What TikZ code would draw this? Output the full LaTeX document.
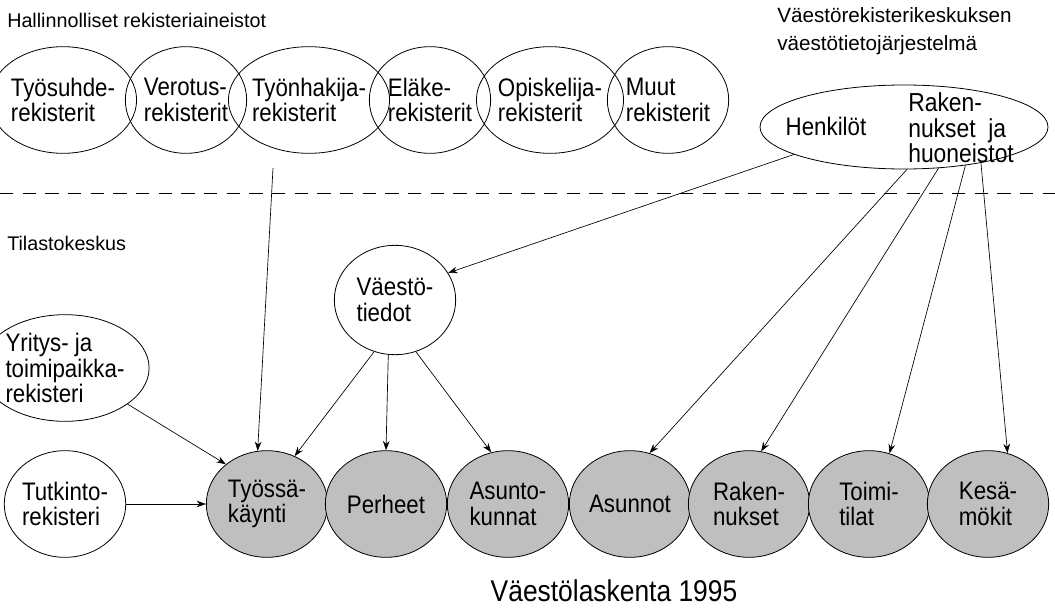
\documentclass[tikz,border=0pt]{standalone}
\usepackage{fontspec}
\setmainfont{Liberation Sans}
\newfontfamily\kapea{Liberation Sans}[FakeStretch=0.88]
\usetikzlibrary{shapes.geometric,arrows.meta}

\tikzset{
  rekisteri/.style={ellipse, draw, line width=0.6pt, inner sep=0pt,
    minimum width=91pt, minimum height=80pt, align=left,
    font=\kapea\fontsize{19}{19}\selectfont},
  tulos/.style={rekisteri, fill=gray!50},
  otsikko/.style={anchor=west, align=left, inner sep=0pt,
    font=\fontsize{14.8}{21.5}\selectfont},
  nuoli/.style={-{Stealth[length=7pt,width=5pt]}, line width=0.5pt},
}

\begin{document}
\begin{tikzpicture}[x=0.75pt, y=-0.75pt]
\useasboundingbox (0,0) rectangle (1055,610);

% hallinnolliset rekisterit
\node[otsikko] (hallinto) at (7,20) {Hallinnolliset rekisteriaineistot};
\node[rekisteri] (tyosuhde) at (63,100) {Työsuhde-\\rekisterit};
\node[rekisteri] (verotus) at (186,100) {Verotus-\\rekisterit};
\node[rekisteri] (tyonhakija) at (309,100) {Työnhakija-\\rekisterit};
\node[rekisteri] (elake) at (430,100) {Eläke-\\rekisterit};
\node[rekisteri] (opiskelija) at (550,100) {Opiskelija-\\rekisterit};
\node[rekisteri] (muut) at (668,100) {Muut\\rekisterit};

% väestötietojärjestelmä
\node[otsikko, font=\fontsize{15.5}{21.5}\selectfont] (vrkotsikko) at (777,31) {Väestörekisterikeskuksen\\väestötietojärjestelmä};
\node[ellipse, draw, line width=0.6pt, minimum width=216pt, minimum height=63pt] (vrk) at (904,127) {};
\node[otsikko, anchor=center, font=\kapea\fontsize{19}{19}\selectfont] (henkilot) at (826,126) {Henkilöt};
\node[otsikko, anchor=west, font=\kapea\fontsize{19.5}{19}\selectfont] (rakhuon) at (908,128) {Raken-\\nukset\ \ ja\\huoneistot};

\draw[line width=0.6pt, dash pattern=on 10pt off 7pt] (0,193) -- (1055,193);

% tilastokeskus
\node[otsikko] (tk) at (7,243) {Tilastokeskus};
\node[rekisteri, minimum height=82pt] (vaesto) at (395,300) {Väestö-\\tiedot};
\node[rekisteri] (yritys) at (65,368) {Yritys- ja\\toimipaikka-\\rekisteri};
\node[rekisteri] (tutkinto) at (65,504) {Tutkinto-\\rekisteri};

\node[tulos] (tyossa) at (267,504) {Työssä-\\käynti};
\node[tulos] (perheet) at (386,504) {Perheet};
\node[tulos] (asuntokunnat) at (508,504) {Asunto-\\kunnat};
\node[tulos] (asunnot) at (630,504) {Asunnot};
\node[tulos] (rakennukset) at (749,504) {Raken-\\nukset};
\node[tulos] (toimitilat) at (869,504) {Toimi-\\tilat};
\node[tulos] (kesamokit) at (988,504) {Kesä-\\mökit};

\node[font=\kapea\fontsize{22.5}{26}\selectfont] (laskenta) at (614,591) {Väestölaskenta 1995};

% nuolet
\coordinate (hakija) at (273,168);
\draw[nuoli] (hakija) -- (tyossa.100);
\draw[nuoli] (yritys.330) -- (tyossa.136);
\draw[nuoli] (tutkinto.east) -- (tyossa.west);
\draw[nuoli] (vaesto.248) -- (tyossa.60);
\draw[nuoli] (vaesto.263) -- (perheet.north);
\draw[nuoli] (vaesto.292) -- (asuntokunnat.108);
\draw[nuoli] (vrk.194) -- (vaesto.27);
\draw[nuoli] (vrk.274) -- (asunnot.69);
\draw[nuoli] (vrk.310) -- (rakennukset.77);
\draw[nuoli] (vrk.328) -- (toimitilat.68);
\draw[nuoli] (vrk.335) -- (kesamokit.69);
\end{tikzpicture}
\end{document}
